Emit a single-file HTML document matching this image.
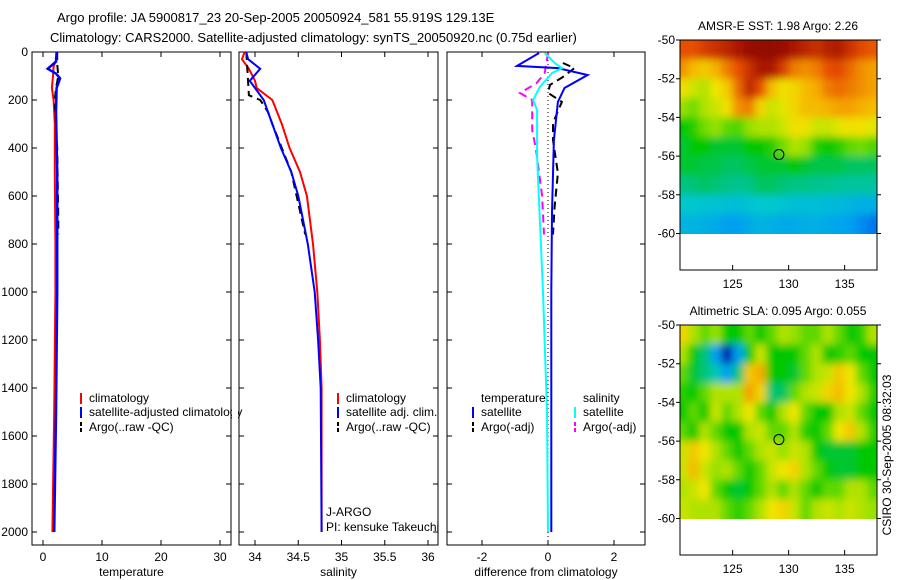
<!DOCTYPE html>
<html><head><meta charset="utf-8"><style>
html,body{margin:0;padding:0;background:#fff}
svg{display:block;font-family:"Liberation Sans",sans-serif}
</style></head><body>
<svg id="fig" width="900" height="580" viewBox="0 0 900 580" xmlns="http://www.w3.org/2000/svg">
<defs>
<filter id="blur" x="-0.1" y="-0.1" width="1.2" height="1.2"><feGaussianBlur stdDeviation="4"/><feComponentTransfer><feFuncA type="discrete" tableValues="0 1 1 1 1 1 1 1"/></feComponentTransfer></filter>
<clipPath id="c1"><rect x="32" y="52" width="199" height="493"/></clipPath>
<clipPath id="c2"><rect x="239" y="52" width="199" height="493"/></clipPath>
<clipPath id="c3"><rect x="447" y="52" width="198" height="493"/></clipPath>
<clipPath id="cm1"><rect x="680" y="40" width="197" height="194"/></clipPath>
<clipPath id="cm2"><rect x="680" y="325" width="197" height="194"/></clipPath>
</defs>
<text x="57" y="22" font-size="13">Argo profile: JA 5900817_23 20-Sep-2005 20050924_581 55.919S 129.13E</text>
<text x="50" y="42" font-size="13">Climatology: CARS2000. Satellite-adjusted climatology: synTS_20050920.nc (0.75d earlier)</text>
<g id="g"></g>
<text transform="translate(891,455) rotate(-90)" text-anchor="middle" font-size="12">CSIRO 30-Sep-2005 08:32:03</text>
</svg>
<script>
// ---------- data ----------
const depthTicks = [0,200,400,600,800,1000,1200,1400,1600,1800,2000];
const tempTicks = [0,10,20,30];
const salTicks = [34,34.5,35,35.5,36];
const diffTicks = [-2,0,2];
const tClimDepth = [0,30,60,100,150,200,300,500,800,1000,1500,2000];
const tClim = [2.4,2.3,1.8,1.7,1.5,1.8,2.0,2.0,2.1,2.1,1.9,1.6];
const tSatDepth = [0,40,70,90,110,150,250,500,1000,1500,2000];
const tSat = [2.3,2.2,0.8,2.2,2.9,2.3,2.2,2.4,2.4,2.2,1.9];
const tArgoDepth = [0,50,100,150,200,400,700,760];
const tArgo = [2.4,2.4,2.6,2.2,2.0,2.4,2.6,2.6];
const sDepth = [0,30,70,120,150,200,300,400,500,600,800,1000,1200,1400,2000];
const sClim = [33.88,33.85,33.93,34.0,34.02,34.2,34.31,34.4,34.52,34.6,34.67,34.72,34.75,34.77,34.77];
const sSat = [33.9,33.92,34.06,33.94,34.0,34.1,34.2,34.3,34.42,34.5,34.61,34.69,34.73,34.76,34.77];
const sArgoDepth = [0,180,200,250,300,500,760];
const sArgo = [33.9,33.93,34.06,34.15,34.2,34.42,34.58];
const dTDepth = [4,58,67,96,150,208,367,667,1000,2000];
const dTSat = [-0.27,-0.94,0.3,1.2,0.5,0.3,0.18,0.12,0.1,0.1];
const dSDepth = [4,46,67,88,146,200,242,437,1000,1500,2000];
const dSSat = [-0.1,0.2,0.42,0.12,-0.25,-0.45,-0.33,-0.33,-0.15,-0.03,0];
const dTArgoDepth = [46,67,104,137,170,208,296,367,504,646,760];
const dTArgo = [0.45,0.8,0.45,0.06,0,0.42,0.15,0.15,0.3,0.2,0.15];
const dSArgoDepth = [4,88,130,171,200,325,408,600,760];
const dSArgo = [0,-0.1,-0.35,-0.85,-0.48,-0.48,-0.36,-0.18,-0.12];
const lonTicks = [125,130,135];
const latTicks = [-50,-52,-54,-56,-58,-60];
const sstGrid = [
[.85,.85,.88,.9,.92,.95,.97,.98,.98,.97,.95,.92,.9,.93,.94,.9,.86,.84],
[.78,.72,.7,.74,.8,.85,.9,.95,.95,.88,.8,.78,.8,.85,.86,.82,.78,.76],
[.66,.62,.6,.65,.7,.82,.92,.85,.72,.66,.68,.72,.75,.8,.82,.8,.78,.76],
[.58,.56,.6,.62,.66,.78,.8,.68,.62,.64,.68,.72,.72,.74,.76,.76,.74,.72],
[.5,.52,.56,.58,.55,.54,.58,.6,.6,.62,.66,.66,.62,.62,.64,.66,.66,.64],
[.48,.5,.5,.48,.48,.48,.5,.5,.52,.56,.6,.58,.52,.5,.52,.55,.56,.54],
[.48,.48,.47,.47,.46,.46,.47,.48,.48,.48,.5,.48,.47,.47,.47,.46,.46,.46],
[.44,.45,.46,.45,.44,.43,.44,.46,.46,.45,.44,.44,.43,.43,.42,.42,.42,.42],
[.38,.38,.37,.37,.36,.36,.37,.38,.38,.37,.36,.36,.36,.35,.35,.34,.33,.33],
[.34,.34,.33,.32,.3,.3,.32,.34,.33,.32,.32,.33,.33,.32,.31,.3,.27,.24]];
const slaGrid = [
[.68,.6,.55,.58,.5,.5,.55,.5,.55,.6,.58,.55,.55,.6,.55,.5,.52,.6],
[.6,.5,.45,.3,.05,.3,.5,.62,.5,.5,.5,.55,.6,.5,.52,.55,.5,.5],
[.55,.48,.45,.4,.3,.45,.7,.75,.5,.5,.48,.55,.6,.62,.7,.65,.55,.5],
[.52,.5,.55,.6,.6,.6,.76,.68,.45,.46,.55,.6,.62,.68,.72,.65,.6,.52],
[.5,.55,.5,.62,.55,.6,.65,.55,.5,.6,.65,.55,.5,.5,.6,.62,.55,.5],
[.55,.5,.6,.55,.5,.5,.6,.62,.55,.55,.6,.52,.5,.55,.65,.7,.6,.52],
[.62,.7,.65,.6,.55,.5,.55,.6,.62,.58,.62,.6,.5,.48,.48,.48,.5,.5],
[.62,.72,.62,.58,.6,.55,.5,.55,.62,.65,.68,.6,.55,.5,.48,.48,.5,.5],
[.6,.62,.65,.55,.5,.48,.5,.55,.6,.55,.6,.55,.5,.55,.55,.6,.6,.55],
[.62,.6,.6,.6,.55,.52,.55,.6,.65,.68,.62,.55,.6,.62,.6,.62,.6,.58]];
const gridLon0 = 120, gridLat0 = -50;
const floatLon = 129.13, floatLat = -55.92;

// ---------- helpers ----------
const NS="http://www.w3.org/2000/svg";
const G=document.getElementById('g');
function mk(tag,attrs,parent){const e=document.createElementNS(NS,tag);for(const k in attrs)e.setAttribute(k,attrs[k]);(parent||G).appendChild(e);return e;}
const yD = d => 52 + d*0.24;
const xT = v => 43 + v*5.9;
const xS = v => 255 + (v-34)*86.5;
const xD = v => 548 + v*33;
const panels=[{x:32,w:199,xs:xT,ticks:tempTicks,lab:'temperature',c:'c1'},{x:239,w:199,xs:xS,ticks:salTicks,lab:'salinity',c:'c2'},{x:447,w:198,xs:xD,ticks:diffTicks,lab:'difference from climatology',c:'c3'}];
panels.forEach((p,i)=>{
  const r=mk('rect',{x:p.x,y:52,width:p.w,height:493,fill:'none',stroke:'#000','stroke-width':1});
  
  
  depthTicks.forEach(d=>{
    const t=mk('path',{d:`M${p.x} ${yD(d)}h5M${p.x+p.w} ${yD(d)}h-5`,stroke:'#000'});
    
    
  });
  p.ticks.forEach(v=>{
    const x=p.xs(v);
    const t=mk('path',{d:`M${x} 52v5M${x} 545v-5`,stroke:'#000'});
    
    
    const l=mk('text',{x:x,y:561,'text-anchor':'middle','font-size':12});
    l.textContent=String(v);
    
    
  });
  const xl=mk('text',{x:p.x+p.w/2,y:576,'text-anchor':'middle','font-size':12});
  xl.textContent=p.lab;
  
  
});
depthTicks.forEach(d=>{
  const l=mk('text',{x:28,y:yD(d)+4,'text-anchor':'end','font-size':12});
  l.textContent=String(d);
  
  
});
function line(depths,vals,xs,color,dash,clip,name,w){
  const pts=depths.map((d,i)=>xs(vals[i]).toFixed(1)+','+yD(d).toFixed(1)).join(' ');
  const a={points:pts,fill:'none',stroke:color,'stroke-width':w||2,'clip-path':`url(#${clip})`};
  if(dash)a['stroke-dasharray']=dash;
  const e=mk('polyline',a);
  
  
}
line(tClimDepth,tClim,xT,'#f00',null,'c1','temp-climatology-line');
line(tArgoDepth,tArgo,xT,'#000','8,5','c1','temp-argo-line');
line(tSatDepth,tSat,xT,'#00f',null,'c1','temp-satellite-line',2.5);
line(sDepth,sClim,xS,'#f00',null,'c2','sal-climatology-line');
line(sArgoDepth,sArgo,xS,'#000','8,5','c2','sal-argo-line');
line(sDepth,sSat,xS,'#00f',null,'c2','sal-satellite-line');
const z=mk('path',{d:`M${xD(0)} 52V545`,stroke:'#000','stroke-dasharray':'1,3'});


line(dTArgoDepth,dTArgo,xD,'#000','8,5','c3','diff-temp-argo-line');
line(dSArgoDepth,dSArgo,xD,'#f0f','8,5','c3','diff-sal-argo-line');
line(dTDepth,dTSat,xD,'#00f',null,'c3','diff-temp-satellite-line');
line(dSDepth,dSSat,xD,'#0ff',null,'c3','diff-sal-satellite-line');

function legend(x,y,color,dash,text,name){
  const m=mk('line',{x1:x,y1:y-9,x2:x,y2:y+2,stroke:color,'stroke-width':2});
  if(dash)m.setAttribute('stroke-dasharray','4,2');
  
  
  const t=mk('text',{x:x+8,y:y,'font-size':12});
  t.textContent=text;
  
  
}
legend(81,402,'#f00',0,'climatology','legend-climatology');
legend(81,416,'#00f',0,'satellite-adjusted climatology','legend-satellite-adjusted');
legend(81,431,'#000',1,'Argo(..raw -QC)','legend-argo');
legend(338,402,'#f00',0,'climatology','legend2-climatology');
legend(338,416,'#00f',0,'satellite adj. clim.','legend2-satellite');
legend(338,431,'#000',1,'Argo(..raw -QC)','legend2-argo');
const th=mk('text',{x:481,y:402,'font-size':12});th.textContent='temperature';


const sh=mk('text',{x:583,y:402,'font-size':12});sh.textContent='salinity';


legend(473,416,'#00f',0,'satellite','legend3-temp-satellite');
legend(473,431,'#000',1,'Argo(-adj)','legend3-temp-argo');
legend(575,416,'#0ff',0,'satellite','legend3-sal-satellite');
legend(575,431,'#f0f',1,'Argo(-adj)','legend3-sal-argo');
const j1=mk('text',{x:326,y:516,'font-size':12});j1.textContent='J-ARGO';


const j2=mk('text',{x:326,y:531,'font-size':12});j2.textContent='PI: kensuke Takeuchi';


const gap=mk('rect',{x:232,y:395,width:6,height:25,fill:'#fff'});



// ---------- maps ----------
const cmapStops=[[0,0,0,140],[0.15,0,60,230],[0.3,0,160,240],[0.38,0,200,205],[0.45,0,195,120],[0.5,0,200,0],[0.58,150,225,0],[0.65,240,230,0],[0.75,245,170,0],[0.85,230,80,0],[0.95,170,20,0],[1,130,0,0]];
function cmap(v){
  v=Math.max(0,Math.min(1,v));
  for(let i=1;i<cmapStops.length;i++){
    const a=cmapStops[i-1],b=cmapStops[i];
    if(v<=b[0]){const t=(v-a[0])/(b[0]-a[0]);
      return `rgb(${Math.round(a[1]+(b[1]-a[1])*t)},${Math.round(a[2]+(b[2]-a[2])*t)},${Math.round(a[3]+(b[3]-a[3])*t)})`;}
  }
  return 'rgb(130,0,0)';
}
function map(top,grid,title,clip,name){
  const lx=v=>680+(v-120.3)*11.2;
  const ly=v=>top+(-50-v)*19.35;
  const g=mk('g',{'clip-path':`url(#${clip})`});
  const inner=mk('g',{filter:'url(#blur)'},g);
  grid.forEach((row,r)=>row.forEach((v,c)=>{
    const x0=lx(gridLon0+c), y0=ly(gridLat0-r);
    const cell=mk('rect',{x:x0.toFixed(1),y:y0.toFixed(1),width:11.7,height:19.8,fill:cmap(v)},inner);
    
    
  }));
  const fr=mk('rect',{x:680,y:top,width:197,height:230,fill:'none',stroke:'#000'});
  
  
  lonTicks.forEach(v=>{
    const t=mk('path',{d:`M${lx(v)} ${top+230}v-5`,stroke:'#000'});
    
    
    const l=mk('text',{x:lx(v),y:top+248,'text-anchor':'middle','font-size':12});l.textContent=v;
    
    
  });
  latTicks.forEach(v=>{
    const t=mk('path',{d:`M680 ${ly(v)}h-4M877 ${ly(v)}h4`,stroke:'#000'});
    
    
    const l=mk('text',{x:675,y:ly(v)+4,'text-anchor':'end','font-size':12});l.textContent=v;
    
    
  });
  const tt=mk('text',{x:778,y:top-10,'text-anchor':'middle','font-size':12});tt.textContent=title;
  
  
  const c=mk('circle',{cx:lx(floatLon),cy:ly(floatLat),r:5,fill:'none',stroke:'#000'});
  
  
}
map(40,sstGrid,'AMSR-E SST: 1.98 Argo: 2.26','cm1','sst-map');
map(325,slaGrid,'Altimetric SLA: 0.095 Argo: 0.055','cm2','sla-map');
</script>
</body></html>
